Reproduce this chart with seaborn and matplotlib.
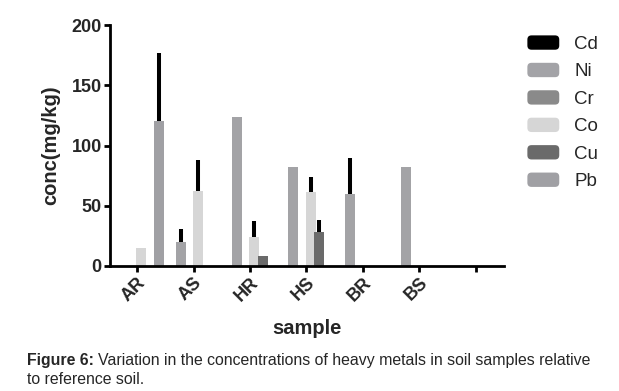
import numpy as np
import pandas as pd
import matplotlib
matplotlib.use("Agg")
import matplotlib.pyplot as plt
import matplotlib.patches as mpatches
from matplotlib.legend_handler import HandlerPatch
import seaborn as sns

# ---------------- data ----------------
samples = ["AR", "AS", "HR", "HS", "BR", "BS", ""]
metals = ["Cd", "Ni", "Cr", "Co", "Cu", "Pb"]

cd = [0, 0, 0, 0, 0, 0, 0]
ni = [0, 20, 124, 82, 60, 82, 0]
cr = [0, 0, 0, 0, 0, 0, 0]
co = [15, 62, 24, 61, 0, 0, 0]
cu = [0, 0, 8, 28, 0, 0, 0]
pb = [120, 0, 0, 0, 0, 0, 0]

cd_err = [0, 0, 0, 0, 0, 0, 0]
ni_err = [0, 11, 0, 0, 30, 0, 0]
cr_err = [0, 0, 0, 0, 0, 0, 0]
co_err = [0, 26, 13, 13, 0, 0, 0]
cu_err = [0, 0, 0, 10, 0, 0, 0]
pb_err = [57, 0, 0, 0, 0, 0, 0]

colors = ["#000000", "#a3a3a7", "#8a8a8a", "#d6d6d6", "#6a6a6a", "#a0a0a4"]

values = {"Cd": cd, "Ni": ni, "Cr": cr, "Co": co, "Cu": cu, "Pb": pb}
errors = {"Cd": cd_err, "Ni": ni_err, "Cr": cr_err, "Co": co_err, "Cu": cu_err, "Pb": pb_err}

rows = []
for m in metals:
    for s, v in zip(samples, values[m]):
        rows.append({"sample": s, "metal": m, "conc": v})
df = pd.DataFrame(rows)

# ---------------- plot ----------------
sns.set_style("ticks")
plt.rcParams["font.family"] = ["Liberation Sans", "DejaVu Sans"]

fig = plt.figure(figsize=(6.19, 3.91), dpi=100)
ax = fig.add_axes([110 / 619, 1 - 266 / 391, (504 - 110) / 619, (266 - 25) / 391])

sns.barplot(data=df, x="sample", y="conc", hue="metal", order=samples,
            hue_order=metals, palette=colors, width=0.92, gap=0,
            errorbar=None, legend=False, linewidth=0, ax=ax)

# widen bars slightly and add upward error lines
for m, cont in zip(metals, ax.containers):
    for bar, err in zip(cont, errors[m]):
        w = bar.get_width()
        bar.set_x(bar.get_x() - w * 0.075)
        bar.set_width(w * 1.15)
        if err > 0:
            xc = bar.get_x() + bar.get_width() / 2
            h = bar.get_height()
            ax.vlines(xc, h, h + err, color="black", lw=2.9, zorder=3)

ax.set_ylim(0, 200)
ax.set_yticks([0, 50, 100, 150, 200])
ax.set_xlim(-0.48, 6.5)

for side in ["top", "right"]:
    ax.spines[side].set_visible(False)
for side in ["left", "bottom"]:
    ax.spines[side].set_linewidth(2.0)
    ax.spines[side].set_color("black")

ax.tick_params(axis="both", direction="out", width=2.0, length=4, color="black",
               labelsize=13, pad=2)
for lab in ax.get_yticklabels():
    lab.set_fontweight("bold")
for lab in ax.get_xticklabels():
    lab.set_fontweight("bold")
    lab.set_rotation(45)
    lab.set_ha("right")
    lab.set_rotation_mode("anchor")

ax.set_xlabel("sample", fontsize=14.5, fontweight="bold", labelpad=10)
ax.set_ylabel("conc(mg/kg)", fontsize=14.5, fontweight="bold", labelpad=8)


def rounded(legend, orig_handle, xdescent, ydescent, width, height, fontsize):
    return mpatches.FancyBboxPatch((-xdescent, -ydescent), width, height,
                                   boxstyle="round,pad=0,rounding_size=3")


handles = [mpatches.Patch(facecolor=c, edgecolor="none", label=m)
           for m, c in zip(metals, colors)]
fig.legend(handles=handles, loc="upper left",
           bbox_to_anchor=(518 / 619, 1 - 26 / 391), frameon=False,
           fontsize=13.5, handlelength=1.7, handleheight=0.8,
           labelspacing=0.52, handletextpad=0.8, borderpad=0,
           handler_map={mpatches.Patch: HandlerPatch(patch_func=rounded)})

# caption
cap_y1 = 1 - 361 / 391
cap_y2 = 1 - 379 / 391
cap_size = 11.4
t1 = fig.text(27 / 619, cap_y1, "Figure 6:", fontsize=cap_size, fontweight="bold",
              va="center", ha="left")
fig.canvas.draw()
bb = t1.get_window_extent()
fig.text((bb.x1 + 4) / 619, cap_y1,
         "Variation in the concentrations of heavy metals in soil samples relative",
         fontsize=cap_size, va="center", ha="left")
fig.text(27 / 619, cap_y2, "to reference soil.", fontsize=cap_size, va="center", ha="left")

fig.savefig("out.png", dpi=100)
